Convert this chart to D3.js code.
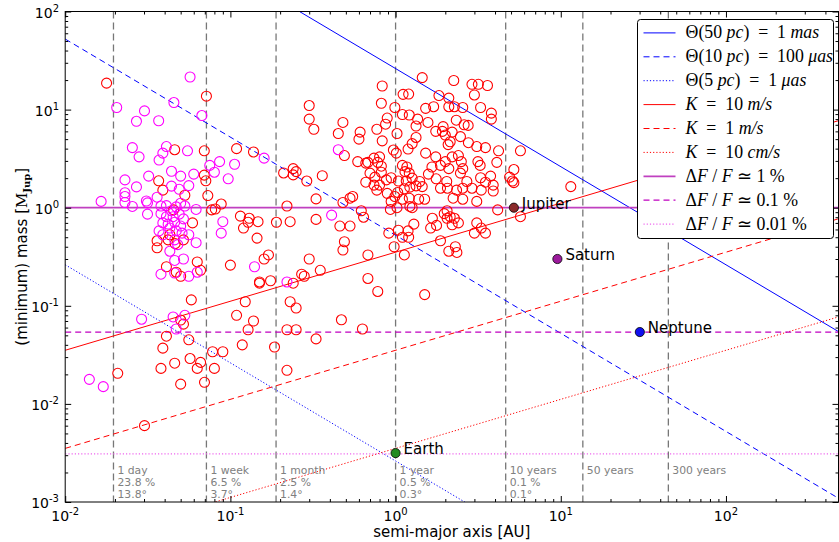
<!DOCTYPE html>
<html>
<head>
<meta charset="utf-8">
<script src="https://cdn.jsdelivr.net/npm/d3@7"></script>
<style>
  body { margin: 0; background: #fff; }
  svg text { font-family: "DejaVu Sans", sans-serif; }
  .leg text { font-family: "Liberation Serif", serif; font-size: 17.8px; white-space: pre; }
</style>
</head>
<body>
<svg id="chart" width="839" height="542"></svg>
<script>
// known planets [a (AU), minimum mass (M_Jup)]
const rvPlanets = [
    [0.0178,18.6],[0.0716,13.7],[0.046,3.9],[0.0695,3.8],[0.109,4.0],[0.138,3.7],[0.0368,1.88],[0.039,1.51],
    [0.053,1.34],[0.0695,2.15],[0.071,1.88],[0.073,1.33],[0.077,0.95],[0.081,0.97],[0.088,1.09],[0.115,0.82],
    [0.13,0.78],[0.12,0.62],[0.128,0.71],[0.147,0.72],[0.145,0.49],[0.059,0.70],[0.0453,0.95],[0.043,0.53],
    [0.036,0.46],[0.036,0.39],[0.042,0.47],[0.0463,0.43],[0.052,0.47],[0.10,0.26],[0.041,0.25],[0.063,0.28],
    [0.047,0.22],[0.066,0.23],[0.05,0.2],
    [0.15,0.17],[0.058,0.115],[0.123,0.11],[0.109,0.08],[0.138,0.07],[0.128,0.057],[0.118,0.04],[0.05,0.0716],
    [0.052,0.065],[0.041,0.049],[0.056,0.045],[0.039,0.037],[0.078,0.034],[0.09,0.034],[0.057,0.029],
    [0.066,0.0265],[0.046,0.026],[0.038,0.023],[0.063,0.023],[0.08,0.023],[0.0208,0.0205],[0.05,0.0159],
    [0.0697,0.0166],[0.0302,0.006],
    [0.30,11.0],[0.30,8.0],[0.32,6.3],[0.48,7.4],[0.45,5.7],[0.49,3.4],[0.61,5.9],[0.6,5.0],[0.83,17.4],
    [0.82,11.6],[0.83,4.8],[0.77,6.3],[0.87,7.1],[0.89,8.2],[1.02,5.7],[0.99,10.5],[1.11,14.3],[1.2,14.4],
    [1.45,21.2],[2.25,19.8],[1.1,8.9],[1.21,8.8],[1.36,8.0],[1.33,6.8],[1.52,10.3],[1.7,10.7],[1.57,7.4],
    [1.83,13.9],[2.1,10.7],[2.1,13.1],[1.94,6.7],[1.92,6.0],[1.75,6.0],[2.0,5.5],[2.2,5.9],[2.08,4.4],
    [2.14,4.7],[1.33,5.2],[1.26,4.5],[1.19,3.96],[0.97,3.87],[1.01,3.6],[1.52,3.6],[1.75,3.3],[2.0,2.95],
    [2.1,2.5],[1.87,2.7],[1.66,2.6],[1.58,2.2],[1.76,1.97],[2.04,1.85],[2.06,1.58],[1.87,1.58],[1.1,2.7],
    [1.17,2.6],[1.14,2.33],[1.21,2.25],[1.26,2.0],[1.16,1.87],[1.4,1.85],[1.33,1.67],[1.45,1.64],[1.22,1.62],
    [1.13,1.56],[1.04,1.87],[0.94,2.02],[0.88,1.92],[0.8,1.7],[0.77,1.51],[0.75,2.05],[0.66,1.82],[0.68,2.9],
    [0.74,3.2],[0.8,3.3],[0.82,2.65],[0.82,2.3],[0.78,2.9],[0.59,2.95],[0.66,2.85],[0.89,1.4],[0.99,1.3],
    [0.94,1.16],[1.03,1.43],[1.1,1.22],[1.21,1.25],[1.38,1.22],[1.5,1.22],[1.26,1.0],[1.22,1.03],[0.93,0.96],
    [1.02,1.0],[2.05,0.93],[1.97,0.87],[2.05,0.78],[2.14,0.81],[1.67,0.78],[1.77,0.66],[1.63,0.62],[1.29,0.68],
    [1.19,0.58],[1.04,0.59],[1.2,0.5],[1.1,0.5],[0.91,0.55],[0.98,0.40],[1.13,0.33],[2.1,0.36],[1.87,0.46],
    [0.68,0.33],[0.53,1.25],[0.55,1.3],[0.48,1.13],[0.62,0.93],[0.64,0.8],[0.53,0.65],[0.46,0.65],[0.49,0.45],
    [0.48,0.37],[0.70,2.25],[0.74,1.7],[0.36,2.12],[0.33,1.23],[0.33,0.76],[0.29,1.87],[0.24,2.5],[0.25,2.33],
    [0.24,2.16],[0.21,2.26],[0.22,1.04],[0.19,0.71],[0.23,0.72],[0.17,0.33],[0.16,0.30],[0.30,0.30],
    [0.27,0.21],[0.35,0.23],
    [2.9,18.1],[3.17,18.1],[3.6,17.6],[3.0,14.1],[2.55,10.5],[2.27,10.7],[3.27,10.5],[3.8,9.2],[3.8,8.0],
    [2.33,7.8],[2.6,7.0],[2.75,6.9],[2.47,5.3],[2.76,4.6],[3.1,4.2],[3.5,4.1],[4.2,3.8],[5.7,3.8],[2.4,3.4],
    [2.2,3.3],[2.5,2.95],[3.15,2.95],[3.25,2.7],[4.1,2.9],[5.2,2.45],[2.55,2.5],[2.47,2.25],[3.76,2.1],
    [3.27,2.02],[2.7,1.85],[3.5,1.82],[3.9,1.7],[4.9,2.05],[5.1,1.87],[5.2,1.8],[2.34,1.51],[2.55,1.58],
    [2.9,1.58],[3.3,1.51],[3.9,1.48],[2.23,1.25],[2.55,1.22],[3.1,1.16],[11.5,1.64],[4.15,0.95],[5.7,0.81],
    [2.27,0.78],[2.4,0.70],[2.2,0.67],[3.1,0.70],[3.3,0.62],[3.5,0.55],[3.0,0.55],[2.3,0.40],[2.35,0.35],
    [0.15,0.175],[0.175,0.18],[0.28,0.20],[0.24,0.17],[0.68,0.19],[0.78,0.14],[1.5,0.13],[0.23,0.11],
    [0.25,0.095],[0.47,0.072],[0.22,0.057],[0.25,0.057],[0.63,0.058],[0.33,0.046],[0.185,0.038],[0.22,0.022]
];

// transit candidates
const candidates = [
    [0.057,21.5],[0.0205,10.5],[0.0302,9.7],[0.027,7.6],[0.0368,7.7],[0.0455,11.8],[0.0672,8.7],[0.0255,4.1],
    [0.028,3.3],[0.041,4.2],[0.039,3.6],[0.037,3.06],[0.055,3.8],[0.075,2.7],[0.086,2.95],[0.106,2.77],
    [0.08,2.3],[0.097,1.97],[0.044,2.35],[0.05,2.1],[0.06,2.2],[0.032,2.1],[0.023,1.92],[0.027,1.63],
    [0.044,1.66],[0.049,1.54],[0.056,1.68],[0.023,1.42],[0.023,1.3],[0.023,1.13],[0.0165,1.16],[0.0255,1.03],
    [0.031,1.17],[0.0315,1.12],[0.036,1.28],[0.0315,0.86],[0.038,1.04],[0.041,1.05],[0.044,0.93],[0.047,1.02],
    [0.05,1.11],[0.053,1.04],[0.062,0.96],[0.038,0.87],[0.041,0.81],[0.045,0.81],[0.049,0.86],[0.052,0.77],
    [0.039,0.70],[0.042,0.68],[0.046,0.71],[0.05,0.65],[0.043,0.62],[0.047,0.58],[0.051,0.55],[0.037,0.58],
    [0.039,0.53],[0.056,0.53],[0.046,0.47],[0.048,0.42],[0.062,0.44],[0.043,0.36],[0.046,0.29],[0.052,0.30],
    [0.09,0.72],[0.088,0.55],[0.038,0.21],[0.056,0.2],[0.063,0.22],[0.14,0.25],[0.046,0.216],
    [0.029,0.073],[0.045,0.077],[0.053,0.08],[0.047,0.058],[0.014,0.0178],[0.017,0.015],
    [0.45,3.9],[0.16,3.2],[0.41,0.84],[0.22,0.175]
];

const solarNames = ['Earth', 'Jupiter', 'Saturn', 'Neptune'];
const solarA = [1.0, 5.2, 9.54, 30.1];
const solarMass = [0.00315, 1.0, 0.30, 0.054];
const solarColors = ['#228b22', '#8b2a2a', '#9c1a9c', '#1010f0'];

// detection limits
const astroCoef = [26.2, 0.524, 0.00262];      // M = c / a
const astroDist = ['50', '10', '5'];
const astroTheta = [['1', 'mas'], ['100', 'μas'], ['1', 'μas']];
const rvCoef = [0.352, 0.0352, 0.00352];       // M = c * sqrt(a)
const rvK = [['10', 'm/s'], ['1', 'm/s'], ['10', 'cm/s']];
const transitMass = [1.0, 0.054, 0.0031];
const transitDepth = ['1', '0.1', '0.01'];

// orbital periods
const periodA = [0.0196, 0.0716, 0.189, 1.0, 4.64, 13.6, 44.8];
const periodNames = ['1 day', '1 week', '1 month', '1 year', '10 years', '50 years', '300 years'];
const periodProb = ['23.8 %', '6.5 %', '2.5 %', '0.5 %', '0.1 %', '', ''];
const periodAngle = ['13.8°', '3.7°', '1.4°', '0.3°', '0.1°', '', ''];

const xTicks = [1e-2, 1e-1, 1e0, 1e1, 1e2];
const yTicks = [1e-3, 1e-2, 1e-1, 1e0, 1e1, 1e2];

const L = 65.2, R = 838.5, T = 11.5, B = 502;
const svg = d3.select('#chart');
const x = d3.scaleLog().domain([1e-2, 480]).range([L, R]);
const y = d3.scaleLog().domain([1e-3, 1e2]).range([B, T]);

svg.append('defs').append('clipPath').attr('id', 'plot')
    .append('rect').attr('x', L).attr('y', T).attr('width', R - L).attr('height', B - T);

const dashes = [null, '6,4', '1.2,2'];
const transitColors = ['#c040c0', '#c000c0', '#ee66ee'];
const lineGen = d3.line().x(d => x(d[0])).y(d => y(d[1]));
const plot = svg.append('g').attr('clip-path', 'url(#plot)');
const xs = x.domain();

// period lines
plot.selectAll('.period')
    .data(periodA)
    .enter()
    .append('line')
    .attr('x1', d => x(d)).attr('x2', d => x(d))
    .attr('y1', T).attr('y2', B)
    .attr('stroke', '#777').attr('stroke-width', 1.3)
    .attr('stroke-dasharray', '7,4');

const limits = [];
astroCoef.forEach((c, i) => limits.push({pts: xs.map(a => [a, c / a]), color: '#0000ff', dash: dashes[i], w: 1}));
rvCoef.forEach((c, i) => limits.push({pts: xs.map(a => [a, c * Math.sqrt(a)]), color: '#ff0000', dash: dashes[i], w: 1}));
transitMass.forEach((m, i) => limits.push({pts: xs.map(a => [a, m]), color: transitColors[i], dash: dashes[i], w: i == 0 ? 1.7 : 1.2}));

plot.selectAll('.limit')
    .data(limits)
    .enter()
    .append('path')
    .attr('d', d => lineGen(d.pts))
    .attr('fill', 'none')
    .attr('stroke', d => d.color)
    .attr('stroke-width', d => d.w)
    .attr('stroke-dasharray', d => d.dash);

plot.selectAll('.rv')
    .data(rvPlanets)
    .enter()
    .append('circle')
    .attr('cx', d => x(d[0])).attr('cy', d => y(d[1]))
    .attr('r', 5)
    .attr('fill', 'none').attr('stroke', '#ff0000').attr('stroke-width', 1.1);

plot.selectAll('.cand')
    .data(candidates)
    .enter()
    .append('circle')
    .attr('cx', d => x(d[0])).attr('cy', d => y(d[1]))
    .attr('r', 5)
    .attr('fill', 'none').attr('stroke', '#ff00ff').attr('stroke-width', 1.1);

solarNames.forEach((name, i) => {
    plot.append('circle')
        .attr('cx', x(solarA[i])).attr('cy', y(solarMass[i]))
        .attr('r', 4.6)
        .attr('fill', solarColors[i]).attr('stroke', '#000').attr('stroke-width', 0.8);
    plot.append('text')
        .attr('x', x(solarA[i]) + 8).attr('y', y(solarMass[i]) + 1)
        .attr('font-size', 15)
        .text(name);
});

// period annotations
periodA.forEach((a, i) => {
    const g = svg.append('g').attr('fill', '#808080').attr('font-size', 10.8);
    [periodNames[i], periodProb[i], periodAngle[i]].forEach((t, j) => {
        g.append('text').attr('x', x(a) + 4).attr('y', 474 + 11.8 * j).text(t);
    });
});

// axes with inward ticks
const minorX = x.ticks().filter(v => !xTicks.includes(v));
const minorY = y.ticks().filter(v => !yTicks.includes(v));
const axes = [
    [d3.axisBottom(x), `translate(0,${B})`, xTicks, minorX],
    [d3.axisTop(x), `translate(0,${T})`, xTicks, minorX],
    [d3.axisLeft(y), `translate(${L},0)`, yTicks, minorY],
    [d3.axisRight(y), `translate(${R},0)`, yTicks, minorY]
];
axes.forEach(([ax, tr, major, minor]) => {
    svg.append('g').attr('transform', tr)
        .call(ax.tickValues(major).tickSize(-6).tickFormat(''))
        .call(g => g.select('.domain').remove());
    svg.append('g').attr('transform', tr)
        .call(ax.tickValues(minor).tickSize(-3).tickFormat(''))
        .call(g => g.select('.domain').remove());
});
svg.append('rect')
    .attr('x', L).attr('y', T).attr('width', R - L).attr('height', B - T)
    .attr('fill', 'none').attr('stroke', '#000').attr('stroke-width', 1);

xTicks.forEach(v => {
    const t = svg.append('text').attr('x', x(v)).attr('y', 521)
        .attr('text-anchor', 'middle').attr('font-size', 14);
    t.append('tspan').text('10');
    t.append('tspan').attr('dy', -6).attr('font-size', 10).text(Math.round(Math.log10(v)));
});
yTicks.forEach(v => {
    const t = svg.append('text').attr('x', 59).attr('y', y(v) + 6)
        .attr('text-anchor', 'end').attr('font-size', 14);
    t.append('tspan').text('10');
    t.append('tspan').attr('dy', -6).attr('font-size', 10).text(Math.round(Math.log10(v)));
});

svg.append('text')
    .attr('x', (L + R) / 2).attr('y', 537)
    .attr('text-anchor', 'middle').attr('font-size', 15)
    .text('semi-major axis [AU]');

const ylab = svg.append('text')
    .attr('transform', `translate(27,${(T + B) / 2}) rotate(-90)`)
    .attr('text-anchor', 'middle').attr('font-size', 15);
ylab.append('tspan').text('(minimum) mass [');
ylab.append('tspan').attr('font-family', 'DejaVu Serif').text('M');
ylab.append('tspan').attr('font-family', 'DejaVu Serif').attr('font-weight', 'bold')
    .attr('font-size', 10).attr('dy', 3).text('Jup');
ylab.append('tspan').attr('dy', -3).text(']');

// legend
const legItems = [];
astroCoef.forEach((c, i) => legItems.push({
    color: '#0000ff', dash: dashes[i], w: 1,
    parts: [['Θ(' + astroDist[i] + ' ', 0], ['pc', 1], [')  =  ' + astroTheta[i][0] + ' ', 0], [astroTheta[i][1], 1]]
}));
rvCoef.forEach((c, i) => legItems.push({
    color: '#ff0000', dash: dashes[i], w: 1,
    parts: [['K', 1], ['  =  ' + rvK[i][0] + ' ', 0], [rvK[i][1], 1]]
}));
transitMass.forEach((m, i) => legItems.push({
    color: transitColors[i], dash: dashes[i], w: i == 0 ? 1.7 : 1.2,
    parts: [['Δ', 0], ['F', 1], [' / ', 0], ['F', 1], [' ≃ ' + transitDepth[i] + ' %', 0]]
}));

const leg = svg.append('g').attr('class', 'leg');
leg.append('rect')
    .attr('x', 637.5).attr('y', 19.5).attr('width', 196).attr('height', 219)
    .attr('rx', 3)
    .attr('fill', '#fff').attr('stroke', '#000').attr('stroke-width', 1);
legItems.forEach((d, i) => {
    const cy = 32.9 + 23.9 * i;
    leg.append('line')
        .attr('x1', 643.5).attr('x2', 675.5).attr('y1', cy).attr('y2', cy)
        .attr('stroke', d.color).attr('stroke-width', d.w)
        .attr('stroke-dasharray', d.dash);
    const t = leg.append('text').attr('x', 685.6).attr('y', cy + 5.5);
    d.parts.forEach(p => t.append('tspan').attr('font-style', p[1] ? 'italic' : null).text(p[0]));
});
</script>
</body>
</html>
